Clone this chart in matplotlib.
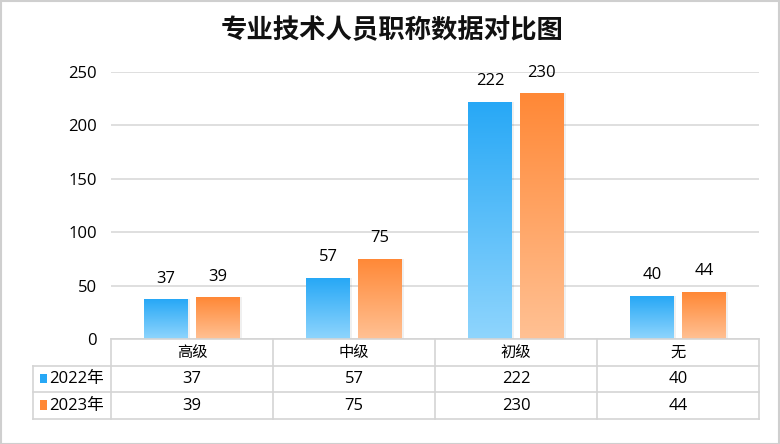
import numpy as np
import matplotlib
matplotlib.use("Agg")
import matplotlib.pyplot as plt
from matplotlib.colors import LinearSegmentedColormap
from matplotlib.patches import Rectangle

plt.rcParams["font.family"] = ["Noto Sans CJK SC", "DejaVu Sans"]
NUM_FONT = ["Open Sans", "Noto Sans CJK SC", "DejaVu Sans"]

# ── Data ─────────────────────────────────────────────────────────────
TITLE = "专业技术人员职称数据对比图"
categories = ["高级", "中级", "初级", "无"]
series_names = ["2022年", "2023年"]
values_2022 = [37, 57, 222, 40]
values_2023 = [39, 75, 230, 44]
yticks = [0, 50, 100, 150, 200, 250]

# gradient colours (top -> bottom)
BLUE = ("#27a8f6", "#8fd5fd")
ORANGE = ("#ff8836", "#ffc194")
GRID = "#d9d9d9"

W, H = 780, 444
fig = plt.figure(figsize=(W / 100, H / 100), dpi=100)

def px(x0, y0, x1, y1):
    # pixel box (top-left origin) -> figure fraction rect
    return [x0 / W, 1 - y1 / H, (x1 - x0) / W, (y1 - y0) / H]

# outer frame
fig.patches.append(Rectangle((0.5 / W, 0.5 / H), 1 - 2 / W, 1 - 2 / H,
                             transform=fig.transFigure, fill=False,
                             edgecolor="#cfcfcf", lw=1.5))

fig.text(0.503, 1 - 31 / H, TITLE, ha="center", va="center",
         fontsize=19, fontweight="bold", color="#111111")

# ── Bar axes ─────────────────────────────────────────────────────────
ax = fig.add_axes(px(111, 72, 759, 339))
x = np.arange(len(categories))
bw = 0.27
off = 0.16

for vals, (ctop, cbot), dx in [(values_2022, BLUE, -off), (values_2023, ORANGE, off)]:
    cmap = LinearSegmentedColormap.from_list("g", [cbot, ctop])
    bars = ax.bar(x + dx, vals, bw, facecolor="none", edgecolor="none", zorder=3)
    for b, v in zip(bars, vals):
        x0 = b.get_x()
        # soft shadow on the right
        ax.add_patch(Rectangle((x0 + 0.012, 0), bw, v, facecolor="#000000",
                               alpha=0.06, edgecolor="none", zorder=2))
        grad = np.linspace(0, 1, 256).reshape(-1, 1)
        im = ax.imshow(grad, cmap=cmap, origin="lower", aspect="auto",
                       extent=[x0, x0 + bw, 0, v], zorder=3)
        im.set_clip_path(b)
        ax.text(x0 + bw / 2, v + 12, str(v), ha="center", va="bottom",
                fontsize=12, color="#000000", family=NUM_FONT, zorder=4)

ax.set_xlim(-0.5, len(categories) - 0.5)
ax.set_ylim(0, 250)
ax.set_yticks(yticks)
ax.set_yticklabels([str(t) for t in yticks], fontsize=12, color="#000000",
                   family=NUM_FONT)
ax.tick_params(axis="y", length=0, pad=10)
ax.set_xticks([])
ax.yaxis.grid(True, color=GRID, lw=1.2, zorder=0)
ax.set_axisbelow(True)
for s in ax.spines.values():
    s.set_visible(False)

# ── Data table ───────────────────────────────────────────────────────
tx0, tx1 = 33, 759
cat_w = (759 - 111) / len(categories)
lab_w = (111 - 33) / cat_w
tax = fig.add_axes(px(tx0, 339, tx1, 419))
tax.set_xlim(-0.5 - lab_w, len(categories) - 0.5)
tax.set_ylim(3, 0)
tax.axis("off")

lc = "#d4d4d4"
# horizontal lines
tax.plot([-0.5, len(categories) - 0.5], [0, 0], color=lc, lw=1.2, clip_on=False)
for yy in [1, 2, 3]:
    tax.plot([-0.5 - lab_w, len(categories) - 0.5], [yy, yy], color=lc, lw=1.2, clip_on=False)
# vertical lines
tax.plot([-0.5 - lab_w] * 2, [1, 3], color=lc, lw=1.2, clip_on=False)
for xx in np.arange(len(categories) + 1) - 0.5:
    tax.plot([xx, xx], [0, 3], color=lc, lw=1.2, clip_on=False)

for i, c in enumerate(categories):
    tax.text(i, 0.5, c, ha="center", va="center", fontsize=11, color="#000000")
for r, (name, vals, col) in enumerate([(series_names[0], values_2022, BLUE[0]),
                                       (series_names[1], values_2023, ORANGE[0])]):
    yy = 1.5 + r
    tax.add_patch(Rectangle((-0.5 - lab_w + 0.045, yy - 0.2), 0.04, 0.36,
                            facecolor=col, edgecolor="none", clip_on=False))
    tax.text(-0.5 - lab_w + 0.1, yy, name, ha="left", va="center",
             fontsize=12, color="#000000", family=NUM_FONT)
    for i, v in enumerate(vals):
        tax.text(i, yy, str(v), ha="center", va="center", fontsize=12,
                 color="#000000", family=NUM_FONT)

fig.savefig("out.png", dpi=100)
